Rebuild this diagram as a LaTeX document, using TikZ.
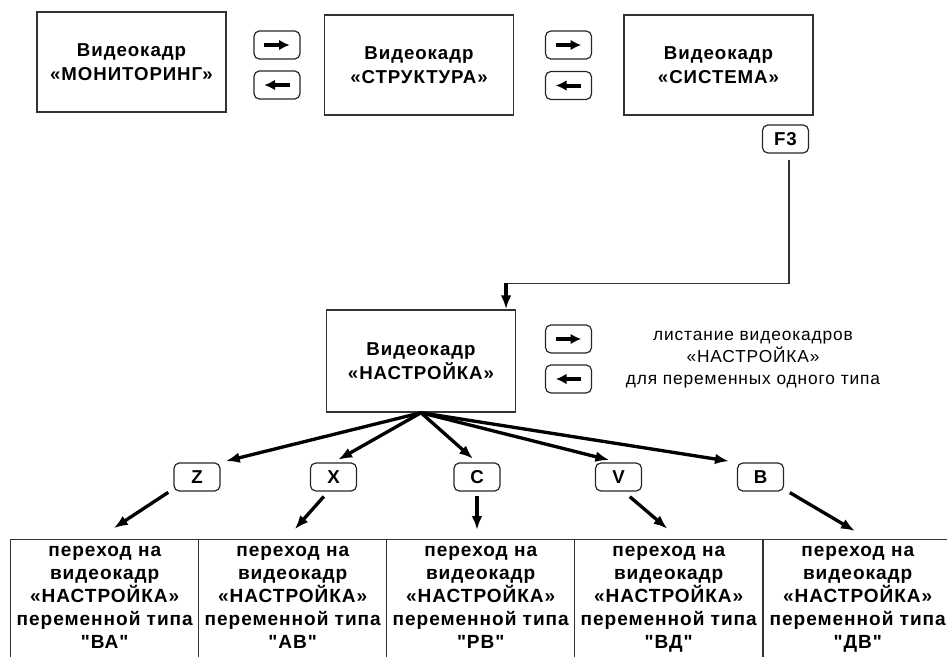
\documentclass[tikz,border=0pt]{standalone}
\usepackage{fontspec}
\setmainfont{Liberation Sans}[LetterSpace=5,Ligatures=TeXOff]
\usetikzlibrary{calc}
\usetikzlibrary{arrows.meta}
\tikzset{>={Latex[length=10.5pt,width=8pt]}}

\newcommand{\vktitle}{\fontsize{14}{18}\selectfont\bfseries}
\newcommand{\vkcell}{\fontsize{14.3}{17.25}\selectfont\bfseries}
\newcommand{\vknote}{\fontsize{13}{16.5}\selectfont}

\tikzset{
  frame/.style={draw=black!80, line width=1.1pt, minimum width=141.5pt,
    minimum height=75pt, align=center, font=\vktitle},
  cell/.style={draw=black!80, line width=1.1pt, minimum width=141pt,
    inner xsep=1pt, inner ysep=5pt, align=center, anchor=north west,
    font=\vkcell},
  key/.style={draw=black!85, rounded corners=4pt, line width=0.9pt,
    minimum width=34.5pt, minimum height=21pt, inner sep=0pt, font=\vktitle},
  glyph/.style={line width=3pt, -{Latex[length=8pt,width=8pt]}},
  arr/.style={line width=2.5pt, ->},
  link/.style={draw=black!80, line width=1.1pt}
}

\begin{document}
\begin{tikzpicture}[x=0.75pt,y=-0.75pt]
    \useasboundingbox (0,0) rectangle (947,657);
    \clip (0,0) rectangle (947,657);

    % top row of frames
    \node [frame] (mon) at (131.5,62) {Видеокадр\\«МОНИТОРИНГ»};
    \node [frame] (str) at (419,65) {Видеокадр\\«СТРУКТУРА»};
    \node [frame] (sys) at (718.5,65) {Видеокадр\\«СИСТЕМА»};

    \node [key] (k1r) at (277,45) {};
    \node [key] (k1l) at (277,85) {};
    \node [key] (k2r) at (568.5,45) {};
    \node [key] (k2l) at (568.5,85.5) {};
    \node [key] (kf3) at (785.5,139) {F3};

    \draw [glyph] ([xshift=-9.5pt]k1r.center) -- ([xshift=9.5pt]k1r.center);
    \draw [glyph] ([xshift=9.5pt]k1l.center) -- ([xshift=-9.5pt]k1l.center);
    \draw [glyph] ([xshift=-9.5pt]k2r.center) -- ([xshift=9.5pt]k2r.center);
    \draw [glyph] ([xshift=9.5pt]k2l.center) -- ([xshift=-9.5pt]k2l.center);

    % setup frame
    \node [frame, minimum height=76.5pt] (nastr) at (421,361)
    {Видеокадр\\«НАСТРОЙКА»};

    \node [key] (k3r) at (568.5,339) {};
    \node [key] (k3l) at (568.5,379) {};
    \draw [glyph] ([xshift=-9.5pt]k3r.center) -- ([xshift=9.5pt]k3r.center);
    \draw [glyph] ([xshift=9.5pt]k3l.center) -- ([xshift=-9.5pt]k3l.center);

    \node [align=center, font=\vknote] (note) at (753,360)
    {листание видеокадров\\«НАСТРОЙКА»\\для переменных одного типа};

    \coordinate (fturn) at ([xshift=-7.5pt,yshift=19.5pt]nastr.north east);
    \draw [link] ([xshift=2.6pt,yshift=-4.5pt]kf3.south) |- (fturn);
    \draw [arr] (fturn) -- (fturn |- nastr.north);

    % variable type keys
    \node [key] (kz) at (197,477) {Z};
    \node [key] (kx) at (333.5,477) {X};
    \node [key] (kc) at (477,477) {C};
    \node [key] (kv) at (618.5,477) {V};
    \node [key] (kb) at (760.5,477) {B};

    \draw [arr, shorten >=4pt] (nastr.south) -- (kz.north east);
    \draw [arr, shorten >=4pt] (nastr.south) -- (kx.north);
    \draw [arr, shorten >=4pt] (nastr.south) -- (kc.north);
    \draw [arr, shorten >=7pt] (nastr.south) -- (kv.north);
    \draw [arr, shorten >=6pt] (nastr.south) -- (kb.north west);

    % target frames
    \node [cell] (b1) at (10,539)
    {переход на\\видеокадр\\«НАСТРОЙКА»\\переменной типа\\"ВА"\\\strut};
    \node [cell] (b2) at (198,539)
    {переход на\\видеокадр\\«НАСТРОЙКА»\\переменной типа\\"АВ"\\\strut};
    \node [cell] (b3) at (386,539)
    {переход на\\видеокадр\\«НАСТРОЙКА»\\переменной типа\\"РВ"\\\strut};
    \node [cell] (b4) at (574,539)
    {переход на\\видеокадр\\«НАСТРОЙКА»\\переменной типа\\"ВД"\\\strut};
    \node [cell] (b5) at (763,539)
    {переход на\\видеокадр\\«НАСТРОЙКА»\\переменной типа\\"ДВ"\\\strut};

    \draw [arr, shorten <=1pt, shorten >=14.8pt]
    ([xshift=-3pt]kz.south west) -- ([xshift=-5.6pt]b1.north);
    \draw [arr, shorten <=4.9pt, shorten >=9.8pt]
    (kx.250) -- ([xshift=-5pt]b2.north);
    \draw [arr, shorten <=3pt, shorten >=6.75pt]
    (kc.south) -- (kc.south |- b3.north);
    \draw [arr, shorten <=5.9pt, shorten >=11.8pt]
    (kv.290) -- ([xshift=8pt]b4.north);
    \draw [arr, shorten <=1.5pt, shorten >=11.7pt]
    ([xshift=3pt]kb.south east) -- ([xshift=8pt]b5.north);
  \end{tikzpicture}
\end{document}
